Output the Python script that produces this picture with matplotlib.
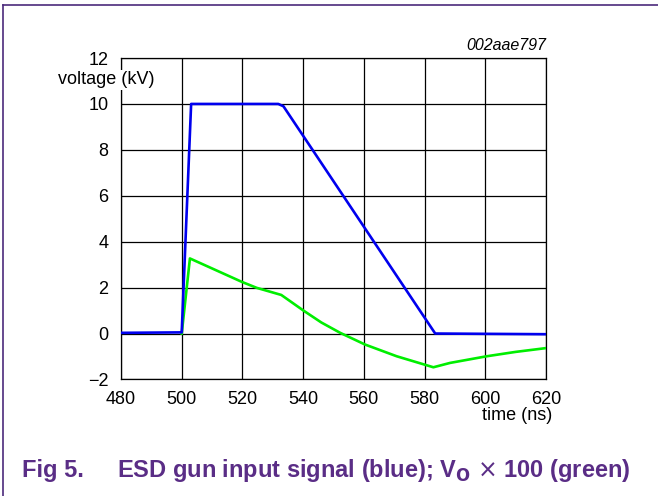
import matplotlib
matplotlib.use("Agg")
import matplotlib.pyplot as plt
from matplotlib.lines import Line2D

plt.rcParams['font.family'] = ['Liberation Sans', 'DejaVu Sans']

# ESD gun input signal (kV) vs time (ns)
blue_t = [480, 500, 503.1, 531.8, 533.5, 583.5, 620]
blue_v = [0.03, 0.05, 10.0, 10.0, 9.9, 0.0, -0.03]

# output voltage x 100
green_t = [500, 502.7, 519.8, 524.7, 532.8, 535.7, 540.1, 546, 552.2,
           560.4, 570.8, 582.9, 588.4, 600.5, 610, 620.3]
green_v = [0.0, 3.27, 2.25, 1.99, 1.68, 1.41, 1.0, 0.48, 0.03,
           -0.48, -0.99, -1.47, -1.28, -0.99, -0.8, -0.63]

x_ticks = [480, 500, 520, 540, 560, 580, 600, 620]
y_ticks = [-2, 0, 2, 4, 6, 8, 10, 12]

purple = '#5a2d86'

fig = plt.figure(figsize=(6.58, 4.96), dpi=100)
ax = fig.add_axes([0.1839, 0.235, 0.6459, 0.648])

ax.plot(green_t, green_v, color='#00ee00', lw=1.9, zorder=3)
ax.plot(blue_t, blue_v, color='#0000ee', lw=1.9, zorder=4)

ax.set_xlim(480, 620)
ax.set_ylim(-2, 12)
ax.set_xticks(x_ticks)
ax.set_yticks(y_ticks)
ax.tick_params(length=0, labelsize=13, colors='black')
ax.tick_params(axis='y', pad=9)
ax.tick_params(axis='x', pad=8)
ax.grid(True, color='black', lw=0.9)
ax.set_axisbelow(True)
for s in ax.spines.values():
    s.set_linewidth(0.9)
    s.set_color('black')

# axis labels
fig.text(106 / 658, 1 - 80 / 496, 'voltage (kV)', fontsize=13,
         ha='center', va='center',
         bbox=dict(facecolor='white', edgecolor='none', pad=1))
fig.text(517 / 658, 1 - 416 / 496, 'time (ns)', fontsize=13,
         ha='center', va='center')
fig.text(546 / 658, 1 - 45 / 496, '002aae797', fontsize=11.5,
         style='italic', ha='right', va='center')

# caption
fig.text(22 / 658, 1 - 471 / 496, 'Fig 5.', fontsize=17, fontweight='bold',
         color=purple, ha='left', va='center')
fig.text(117 / 658, 1 - 471 / 496,
         r'ESD gun input signal (blue); V$_\mathbf{O}$ $\times$ 100 (green)',
         fontsize=17, fontweight='bold', color=purple, ha='left', va='center')

# frame lines at top and left
fig.add_artist(Line2D([3 / 658, 3 / 658], [0, 1 - 5 / 496],
                      color='#4b2a7b', lw=1.2, transform=fig.transFigure))
fig.add_artist(Line2D([3 / 658, 1], [1 - 5 / 496, 1 - 5 / 496],
                      color='#4b2a7b', lw=1.2, transform=fig.transFigure))

fig.savefig('out.png', dpi=100)
